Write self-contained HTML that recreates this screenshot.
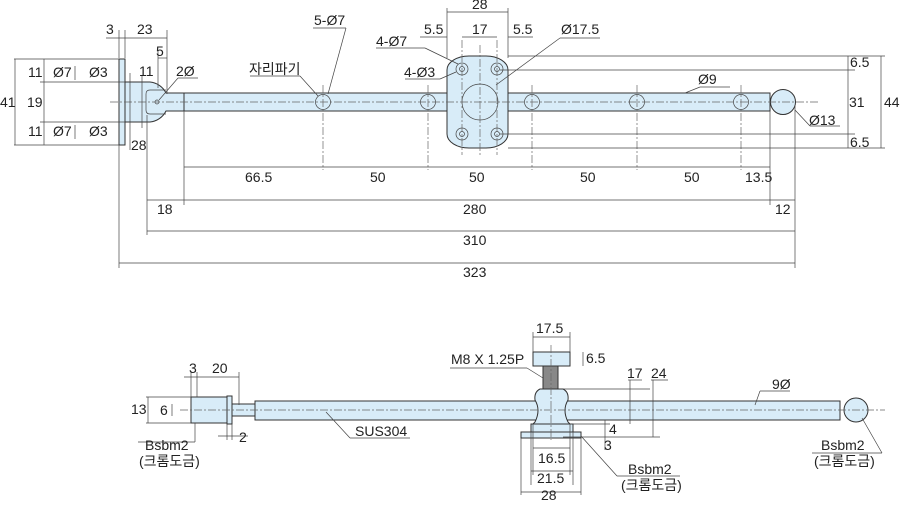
<!DOCTYPE html>
<html><head><meta charset="utf-8"><style>
html,body{margin:0;padding:0;background:#fff}
svg{display:block}
text{font-family:"Liberation Sans","Noto Sans CJK KR",sans-serif;font-size:14px;fill:#222}
.f{fill:#d8ecf8;stroke:#333;stroke-width:1}
.l{stroke:#444;stroke-width:.7;fill:none}
.c{stroke:#666;stroke-width:.7;fill:none;stroke-dasharray:8 2 2 2}
</style></head><body>
<svg width="900" height="505" viewBox="0 0 900 505">
<!-- TOP VIEW -->
<g>
<rect class="f" x="119" y="59" width="6" height="86"/>
<path class="f" d="M125 82 H150 A20 20 0 0 1 166 93 L184 93 V111 L166 111 A20 20 0 0 1 150 122 H125 Z"/>
<path class="l" d="M150 90 H166 M150 114 H166 M150 90 Q146 90 146 94 V110 Q146 114 150 114"/>
<circle cx="157" cy="102" r="2" class="l"/>
<rect class="f" x="184" y="93" width="586" height="18"/>
<circle class="f" cx="783" cy="102" r="12.5"/>
<rect class="f" x="447" y="56" width="61" height="92" rx="22" ry="14"/>
<circle class="l" cx="480" cy="102" r="18"/>
<g class="l">
<circle cx="462" cy="69" r="6"/><circle cx="462" cy="69" r="2.5"/>
<circle cx="497" cy="69" r="6"/><circle cx="497" cy="69" r="2.5"/>
<circle cx="462" cy="134" r="6"/><circle cx="462" cy="134" r="2.5"/>
<circle cx="497" cy="134" r="6"/><circle cx="497" cy="134" r="2.5"/>
<circle cx="323" cy="102" r="7.5"/><circle cx="428" cy="102" r="7.5"/>
<circle cx="532" cy="102" r="7.5"/><circle cx="637" cy="102" r="7.5"/><circle cx="741" cy="102" r="7.5"/>
</g>
<line class="c" x1="110" y1="102" x2="820" y2="102"/>
<g class="c"><line x1="323" y1="85" x2="323" y2="170"/><line x1="428" y1="85" x2="428" y2="170"/><line x1="532" y1="85" x2="532" y2="170"/><line x1="637" y1="85" x2="637" y2="170"/><line x1="741" y1="85" x2="741" y2="170"/><line x1="480" y1="45" x2="480" y2="155"/><line x1="462" y1="40" x2="462" y2="155"/><line x1="497" y1="40" x2="497" y2="155"/></g>
<g class="l">
<line x1="184" y1="111" x2="184" y2="205"/><line x1="770" y1="111" x2="770" y2="205"/><line x1="795" y1="106" x2="795" y2="268"/>
<line x1="147" y1="115" x2="147" y2="235"/><line x1="119" y1="145" x2="119" y2="268"/>
<line x1="184" y1="167" x2="770" y2="167"/>
<line x1="147" y1="200" x2="795" y2="200"/>
<line x1="147" y1="231" x2="795" y2="231"/>
<line x1="119" y1="263" x2="795" y2="263"/>
<line x1="508" y1="56" x2="885" y2="56"/><line x1="500" y1="70" x2="855" y2="70"/>
<line x1="500" y1="134" x2="855" y2="134"/><line x1="508" y1="148" x2="885" y2="148"/>
<line x1="848" y1="56" x2="848" y2="148"/><line x1="881" y1="56" x2="881" y2="148"/>
<line x1="447" y1="12" x2="508" y2="12"/><line x1="447" y1="8" x2="447" y2="58"/><line x1="508" y1="8" x2="508" y2="58"/>
<line x1="462" y1="37" x2="497" y2="37"/><line x1="420" y1="37" x2="447" y2="37"/><line x1="508" y1="37" x2="533" y2="37"/>
<line x1="496" y1="85" x2="560" y2="38"/><line x1="560" y1="38" x2="600" y2="38"/>
<line x1="376" y1="48" x2="425" y2="48"/><line x1="425" y1="48" x2="458" y2="64"/>
<line x1="405" y1="79" x2="440" y2="79"/><line x1="440" y1="79" x2="456" y2="72"/>
<line x1="313" y1="28" x2="346" y2="28"/><line x1="346" y1="28" x2="328" y2="94"/>
<line x1="250" y1="76" x2="300" y2="76"/><line x1="300" y1="76" x2="318" y2="96"/>
<line x1="700" y1="87" x2="730" y2="87"/><line x1="700" y1="87" x2="685" y2="93"/>
<line x1="795" y1="110" x2="810" y2="126"/><line x1="810" y1="126" x2="840" y2="126"/>
<line x1="106" y1="38" x2="167" y2="38"/><line x1="119" y1="30" x2="119" y2="58"/><line x1="125" y1="30" x2="125" y2="58"/><line x1="167" y1="30" x2="167" y2="94"/>
<line x1="158" y1="58" x2="167" y2="58"/><line x1="158" y1="50" x2="158" y2="88"/>
<line x1="142" y1="76" x2="142" y2="128"/><line x1="130" y1="73" x2="130" y2="150"/>
<line x1="14" y1="59" x2="119" y2="59"/><line x1="14" y1="145" x2="119" y2="145"/>
<line x1="40" y1="82" x2="125" y2="82"/><line x1="40" y1="122" x2="125" y2="122"/>
<line x1="15" y1="59" x2="15" y2="145"/><line x1="44" y1="59" x2="44" y2="145"/>
<line x1="75" y1="66" x2="75" y2="80"/><line x1="75" y1="125" x2="75" y2="139"/>
<line x1="178" y1="78" x2="198" y2="78"/><line x1="178" y1="78" x2="159" y2="100"/>
</g>
<text x="245" y="182">66.5</text><text x="370" y="182">50</text><text x="469" y="182">50</text><text x="580" y="182">50</text><text x="684" y="182">50</text><text x="745" y="182">13.5</text>
<text x="157" y="214">18</text><text x="463" y="214">280</text><text x="775" y="214">12</text>
<text x="463" y="245">310</text><text x="463" y="277">323</text>
<text x="472" y="9">28</text><text x="472" y="34">17</text><text x="424" y="34">5.5</text><text x="513" y="34">5.5</text><text x="561" y="34">Ø17.5</text>
<text x="376" y="46">4-Ø7</text><text x="404" y="77">4-Ø3</text><text x="314" y="25">5-Ø7</text><text x="249" y="74">자리파기</text>
<text x="698" y="84">Ø9</text><text x="809" y="125">Ø13</text>
<text x="850" y="67">6.5</text><text x="849" y="107">31</text><text x="850" y="147">6.5</text><text x="884" y="107">44</text>
<text x="106" y="34">3</text><text x="137" y="34">23</text><text x="156" y="56">5</text><text x="139" y="76">11</text><text x="176" y="76">2Ø</text><text x="131" y="150">28</text>
<text x="0" y="107">41</text><text x="27" y="107">19</text><text x="28" y="77">11</text><text x="28" y="136">11</text>
<text x="53" y="77">Ø7</text><text x="89" y="77">Ø3</text><text x="53" y="136">Ø7</text><text x="89" y="136">Ø3</text>
</g>
<!-- BOTTOM VIEW -->
<g>
<rect class="f" x="191" y="397" width="36" height="26"/>
<rect class="f" x="227" y="396" width="5" height="28"/>
<rect class="f" x="232" y="404" width="23" height="12"/>
<rect class="f" x="255" y="401" width="585" height="19"/>
<circle class="f" cx="856" cy="410" r="12"/>
<rect class="f" x="533" y="352" width="37" height="14"/>
<rect x="543" y="366" width="15" height="23" fill="#888" stroke="#333" stroke-width="1"/>
<path class="f" d="M540 389 H563 Q569 392 568 400 Q562 410 568 422 L570 424 H533 L535 422 Q541 410 535 400 Q534 392 540 389 Z"/>
<rect class="f" x="531" y="424" width="42" height="8"/>
<rect class="f" x="521" y="432" width="60" height="6"/>
<line class="c" x1="180" y1="410" x2="885" y2="410"/>
<line class="c" x1="551" y1="345" x2="551" y2="440"/>
<g class="l">
<line x1="184" y1="377" x2="239" y2="377"/><line x1="191" y1="372" x2="191" y2="397"/><line x1="197" y1="372" x2="197" y2="397"/><line x1="239" y1="372" x2="239" y2="405"/>
<line x1="146" y1="397" x2="191" y2="397"/><line x1="146" y1="423" x2="191" y2="423"/><line x1="148" y1="397" x2="148" y2="423"/>
<line x1="172" y1="404" x2="172" y2="416"/>
<line x1="227" y1="424" x2="227" y2="440"/><line x1="232" y1="424" x2="232" y2="440"/><line x1="218" y1="436" x2="248" y2="436"/>
<line x1="195" y1="423" x2="195" y2="442"/><line x1="138" y1="442" x2="195" y2="442"/>
<line x1="326" y1="412" x2="350" y2="438"/><line x1="350" y1="438" x2="410" y2="438"/>
<line x1="533" y1="337" x2="570" y2="337"/><line x1="533" y1="332" x2="533" y2="352"/><line x1="570" y1="332" x2="570" y2="352"/>
<line x1="583" y1="352" x2="583" y2="366"/>
<line x1="450" y1="368" x2="527" y2="368"/><line x1="527" y1="368" x2="543" y2="378"/>
<line x1="563" y1="389" x2="650" y2="389"/><line x1="563" y1="437" x2="660" y2="437"/>
<line x1="570" y1="424" x2="610" y2="424"/>
<line x1="630" y1="380" x2="630" y2="424"/><line x1="653" y1="380" x2="653" y2="437"/>
<line x1="628" y1="380" x2="642" y2="380"/><line x1="651" y1="380" x2="668" y2="380"/>
<line x1="605" y1="420" x2="605" y2="450"/>
<line x1="533" y1="424" x2="533" y2="475"/><line x1="570" y1="424" x2="570" y2="475"/>
<line x1="531" y1="432" x2="531" y2="485"/><line x1="573" y1="432" x2="573" y2="485"/>
<line x1="521" y1="438" x2="521" y2="495"/><line x1="581" y1="438" x2="581" y2="495"/>
<line x1="533" y1="448" x2="570" y2="448"/><line x1="531" y1="471" x2="573" y2="471"/><line x1="521" y1="492" x2="581" y2="492"/>
<line x1="581" y1="436" x2="617" y2="476"/><line x1="617" y1="476" x2="680" y2="476"/>
<line x1="760" y1="391" x2="790" y2="391"/><line x1="760" y1="391" x2="755" y2="405"/>
<line x1="862" y1="418" x2="882" y2="453"/><line x1="812" y1="453" x2="882" y2="453"/>
</g>
<text x="189" y="373">3</text><text x="212" y="373">20</text><text x="131" y="414">13</text><text x="160" y="415">6</text><text x="239" y="442">2</text>
<text x="145" y="450">Bsbm2</text><text x="139" y="466">(크롬도금)</text>
<text x="355" y="436">SUS304</text>
<text x="536" y="333">17.5</text><text x="586" y="363">6.5</text><text x="451" y="364">M8 X 1.25P</text>
<text x="627" y="378">17</text><text x="651" y="378">24</text><text x="609" y="434">4</text><text x="604" y="450">3</text>
<text x="538" y="463">16.5</text><text x="537" y="483">21.5</text><text x="541" y="500">28</text>
<text x="628" y="474">Bsbm2</text><text x="621" y="490">(크롬도금)</text>
<text x="772" y="389">9Ø</text>
<text x="821" y="450">Bsbm2</text><text x="814" y="466">(크롬도금)</text>
</g>
</svg>
</body></html>
